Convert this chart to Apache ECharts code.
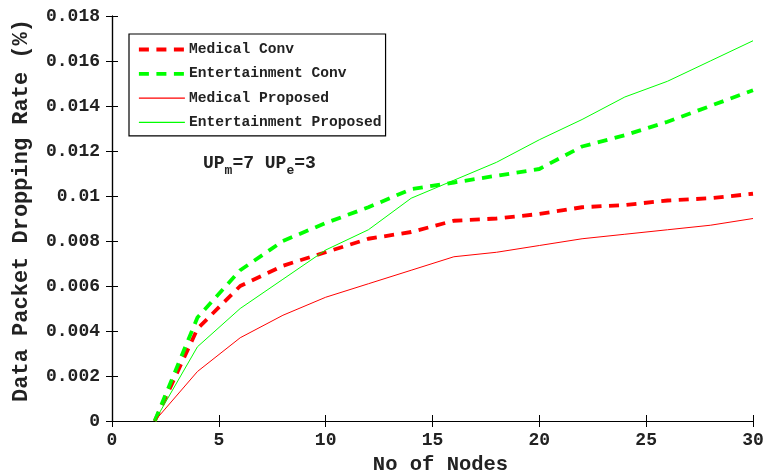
<!DOCTYPE html>
<html><head><meta charset="utf-8">
<script src="https://cdn.jsdelivr.net/npm/echarts@6/dist/echarts.min.js"></script>
<style>html,body{margin:0;padding:0;background:#fff}#c{width:768px;height:476px}</style>
</head><body><div id="c"></div>
<script>
const nodes = [2,4,6,8,10,12,14,16,18,20,22,24,26,28,30];
const medicalConv = [0,0.0041,0.0060,0.0069,0.0075,0.0081,0.0084,0.0089,0.0090,0.0092,0.0095,0.0096,0.0098,0.0099,0.0101];
const entertainmentConv = [0,0.0046,0.0067,0.0080,0.0088,0.0095,0.0103,0.0106,0.0109,0.0112,0.0122,0.0127,0.0133,0.0140,0.0147];
const medicalProp = [0,0.0022,0.0037,0.0047,0.0055,0.0061,0.0067,0.0073,0.0075,0.0078,0.0081,0.0083,0.0085,0.0087,0.0090];
const entertainmentProp = [0,0.0033,0.0050,0.0063,0.0076,0.0085,0.0099,0.0107,0.0115,0.0125,0.0134,0.0144,0.0151,0.0160,0.0169];
const seriesNames = ['Medical Conv','Entertainment Conv','Medical Proposed','Entertainment Proposed'];
const xTicks = [0,5,10,15,20,25,30];
const yTicks = [0,0.002,0.004,0.006,0.008,0.01,0.012,0.014,0.016,0.018];

const FONT = '"Liberation Mono", "DejaVu Sans Mono", monospace';
const pair = arr => nodes.map((n,i)=>[n,arr[i]]);
const chart = echarts.init(document.getElementById('c'), null, {renderer:'canvas'});
const fmtY = v => { let s = v.toFixed(3); s = s.replace(/0+$/,''); if (s.endsWith('.')) s = s.slice(0,-1); return s; };
const axisCommon = {
  axisLine:{show:true, lineStyle:{color:'#000', width:1.2}},
  axisTick:{show:true, inside:true, length:6, lineStyle:{color:'#000'}},
  splitLine:{show:false}
};
const styles = [
  {color:'#ff0000', dashed:true},
  {color:'#00ff00', dashed:true},
  {color:'#ff0000', dashed:false},
  {color:'#00ff00', dashed:false}
];
const lineStyleOf = s => ({color:s.color, width: s.dashed?3.8:1, type: s.dashed?[10,7.5]:'solid'});
function mk(i, data){
  return {name:seriesNames[i], type:'line', data:pair(data), showSymbol:false, symbol:'none', animation:false,
    color:styles[i].color,
    lineStyle:lineStyleOf(styles[i]), itemStyle:{color:styles[i].color}};
}
chart.setOption({
  animation:false,
  backgroundColor:'#fff',
  grid:{left:112, right:15, top:16, bottom:55, containLabel:false, outerBoundsMode:'none'},
  legend:{
    orient:'vertical', left:129, top:34,
    data:seriesNames.map((n,i)=>({name:n, lineStyle:{width: styles[i].dashed?3.8:1.2}})),
    itemWidth:46, itemHeight:10, itemGap:9.3, itemStyle:{opacity:0},
    borderColor:'#000', borderWidth:1.2, padding:[8,4,6,8], backgroundColor:'#fff',
    textStyle:{fontFamily:FONT, fontSize:14.6, fontWeight:'bold', color:'#222', padding:[0,0,0,-1]}
  },
  xAxis:[
    Object.assign({type:'value', min:0, max:30, interval:5, position:'bottom',
      name:'No of Nodes', nameLocation:'middle', nameGap:33,
      nameTextStyle:{fontFamily:FONT, fontSize:20.5, fontWeight:'bold', color:'#222', padding:[0,0,0,16]},
      axisLabel:{fontFamily:FONT, fontSize:18, fontWeight:'bold', color:'#222', margin:10,
        formatter: v => xTicks.includes(v)? String(v):''}}, axisCommon),
    Object.assign({type:'value', min:0, max:30, interval:5, position:'top', axisLabel:{show:false}}, axisCommon)
  ],
  yAxis:[
    Object.assign({type:'value', min:0, max:0.018, interval:0.002, position:'left',
      name:'Data Packet Dropping Rate (%)', nameLocation:'middle', nameGap:80,
      nameTextStyle:{fontFamily:FONT, fontSize:22, fontWeight:'bold', color:'#222', padding:[0,0,0,16]},
      axisLabel:{fontFamily:FONT, fontSize:18, fontWeight:'bold', color:'#222', margin:12,
        formatter: v => fmtY(v)}}, axisCommon),
    Object.assign({type:'value', min:0, max:0.018, interval:0.002, position:'right', axisLabel:{show:false}}, axisCommon)
  ],
  graphic:[{
    type:'text', left:203, top:152,
    style:{
      text:'{b|UP}{s|m}{b|=7 UP}{s|e}{b|=3}',
      rich:{
        b:{fontFamily:FONT, fontSize:18, fontWeight:'bold', fill:'#222', verticalAlign:'top', lineHeight:20},
        s:{fontFamily:FONT, fontSize:13, fontWeight:'bold', fill:'#222', padding:[12,0,0,0], lineHeight:20}
      }
    }
  }],
  series:[
    mk(0, medicalConv),
    mk(1, entertainmentConv),
    mk(2, medicalProp),
    mk(3, entertainmentProp)
  ]
});
</script></body></html>
